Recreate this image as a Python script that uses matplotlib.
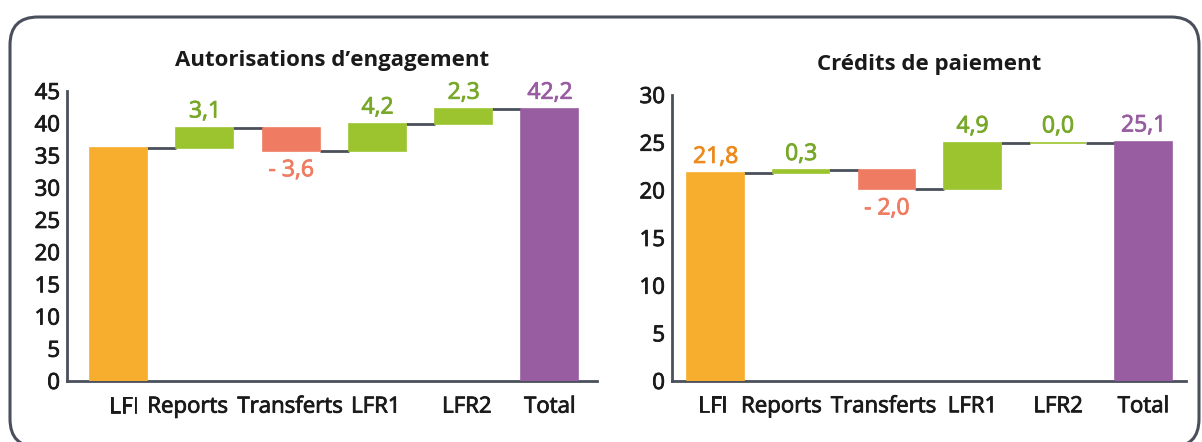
import matplotlib.pyplot as plt
import matplotlib.patheffects as pe
from matplotlib.patches import FancyBboxPatch

# Data (Md€)
categories = ['LFI', 'Reports', 'Transferts', 'LFR1', 'LFR2', 'Total']
ae_values = [36.2, 3.1, -3.6, 4.2, 2.3, 42.2]
ae_labels = ['', '3,1', '- 3,6', '4,2', '2,3', '42,2']
cp_values = [21.8, 0.3, -2.0, 4.9, 0.0, 25.1]
cp_labels = ['21,8', '0,3', '- 2,0', '4,9', '0,0', '25,1']

ORANGE = '#f7ae2e'
GREEN = '#9bc42f'
RED = '#ef7c62'
PURPLE = '#985da1'
GREEN_TXT = '#78a829'
ORANGE_TXT = '#ec8a1c'
LINE = '#4a4f5c'
TXT = '#1a1a1a'

plt.rcParams['font.family'] = ['Open Sans', 'DejaVu Sans']


def heavier(color):
    # thin outline in the text colour, to get a medium weight
    return [pe.withStroke(linewidth=0.6, foreground=color)]


def waterfall(ax, values, labels, ymax, title, shifts):
    """Draw a waterfall chart: first and last bars are totals, others are steps."""
    x = list(range(len(values)))
    width = 0.66
    level = values[0]
    bottoms, heights, colors, tops = [], [], [], []
    for i, v in enumerate(values):
        if i == 0:
            bottoms.append(0); heights.append(v); colors.append(ORANGE)
            level = v
        elif i == len(values) - 1:
            bottoms.append(0); heights.append(v); colors.append(PURPLE)
        else:
            if v >= 0:
                bottoms.append(level); heights.append(v); colors.append(GREEN)
            else:
                bottoms.append(level + v); heights.append(-v); colors.append(RED)
            level = level + v
        tops.append(level if i < len(values) - 1 else v)

    ax.bar(x, heights, bottom=bottoms, width=width, color=colors,
           edgecolor=colors, linewidth=1.2, zorder=3)

    # connector lines between bars
    for i in range(len(values) - 1):
        ax.plot([x[i] + width / 2, x[i + 1] - width / 2], [tops[i], tops[i]],
                color=LINE, linewidth=2, zorder=2, solid_capstyle='butt')

    # value labels
    for i, (v, lab) in enumerate(zip(values, labels)):
        if not lab:
            continue
        if i == 0:
            col, y, va = ORANGE_TXT, v + 0.015 * ymax, 'bottom'
        elif i == len(values) - 1:
            col, y, va = PURPLE, v + 0.015 * ymax, 'bottom'
        elif v >= 0:
            col, y, va = GREEN_TXT, bottoms[i] + heights[i] + 0.015 * ymax, 'bottom'
        else:
            col, y, va = RED, bottoms[i] - 0.025 * ymax, 'top'
        ax.text(x[i], y, lab, color=col, ha='center', va=va,
                fontsize=16.5, path_effects=heavier(col))

    ax.set_ylim(0, ymax)
    ax.set_yticks(range(0, int(ymax) + 1, 5))
    ax.set_xticks(x)
    ax.set_xticklabels([])
    # category labels, placed by hand like in the original layout
    for i, cat in enumerate(categories):
        ax.text(x[i] + shifts[i], -0.09, cat, transform=ax.get_xaxis_transform(),
                ha='center', va='center', fontsize=16, color=TXT,
                path_effects=heavier(TXT))
    for s in ['top', 'right']:
        ax.spines[s].set_visible(False)
    for s in ['left', 'bottom']:
        ax.spines[s].set_color(LINE)
        ax.spines[s].set_linewidth(2)
    ax.tick_params(length=0, labelsize=16, colors=TXT)
    ax.tick_params(axis='y', pad=5)
    for t in ax.get_yticklabels():
        t.set_path_effects(heavier(TXT))
    ax.set_title(title, fontsize=16, fontweight='bold', pad=18, color=TXT)


fig = plt.figure(figsize=(12.02, 4.42), dpi=100)

# rounded frame around both panels
bg = fig.add_axes([0, 0, 1, 1])
bg.set_xlim(0, 1202)
bg.set_ylim(442, 0)
bg.axis('off')
bg.add_patch(FancyBboxPatch((10, 17), 1189, 430, boxstyle='round,pad=0,rounding_size=28',
                            facecolor='white', edgecolor=LINE, linewidth=2.2))

ax1 = fig.add_axes([0.0557, 0.138, 0.4413, 0.656])
waterfall(ax1, ae_values, ae_labels, 45, 'Autorisations d\u2019engagement',
          [0.06, -0.2, -0.01, -0.02, 0.035, 0.0])
ax1.set_xlim(-0.6, 5.55)

ax2 = fig.add_axes([0.559, 0.138, 0.428, 0.647])
waterfall(ax2, cp_values, cp_labels, 30, 'Crédits de paiement',
          [-0.035, -0.23, -0.035, 0.0, 0.0, 0.0])
ax2.set_xlim(-0.51, 5.5)

fig.savefig('out.png', dpi=100)
